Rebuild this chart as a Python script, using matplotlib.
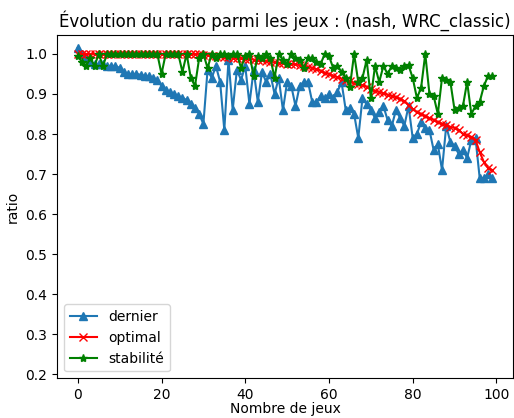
import numpy as np
import matplotlib
matplotlib.use('Agg')
import matplotlib.pyplot as plt

# valeurs
dernier = [1.015, 1.00, 0.99, 0.98, 0.975, 0.975, 0.975, 0.97, 0.97, 0.97,
           0.965, 0.955, 0.95, 0.95, 0.95, 0.948, 0.945, 0.945, 0.94, 0.935,
           0.92, 0.91, 0.905, 0.90, 0.895, 0.89, 0.885, 0.875, 0.865, 0.85,
           0.825, 0.96, 0.94, 0.97, 0.93, 0.81, 0.985, 0.86, 0.96, 0.935,
           0.97, 0.875, 0.96, 0.88, 0.955, 0.93, 0.95, 0.90, 0.94, 0.86,
           0.93, 0.92, 0.87, 0.92, 0.93, 0.93, 0.88, 0.88, 0.895, 0.89,
           0.90, 0.89, 0.905, 0.93, 0.86, 0.865, 0.85, 0.79, 0.89, 0.875,
           0.86, 0.84, 0.855, 0.87, 0.835, 0.82, 0.86, 0.84, 0.82, 0.87,
           0.79, 0.80, 0.83, 0.815, 0.81, 0.76, 0.775, 0.71, 0.82, 0.78,
           0.77, 0.75, 0.76, 0.74, 0.785, 0.79, 0.69, 0.69, 0.70, 0.69]

optimal = [1.0] * 30 + [
           0.998, 0.997, 0.995, 0.995, 0.994, 0.993, 0.992, 0.99, 0.99, 0.989,
           0.988, 0.987, 0.986, 0.985, 0.984, 0.982, 0.98, 0.979, 0.978, 0.977,
           0.976, 0.975, 0.974, 0.972, 0.97, 0.968, 0.965, 0.962, 0.958, 0.953,
           0.95, 0.946, 0.942, 0.938, 0.935, 0.932, 0.928, 0.925, 0.922, 0.918,
           0.913, 0.908, 0.905, 0.902, 0.898, 0.895, 0.892, 0.888, 0.882, 0.872,
           0.862, 0.855, 0.85, 0.845, 0.84, 0.835, 0.83, 0.826, 0.822, 0.818,
           0.815, 0.81, 0.80, 0.797, 0.793, 0.785, 0.755, 0.73, 0.715, 0.71]

stabilite = [0.995, 0.98, 0.97, 0.99, 0.97, 1.0, 0.97, 1.0, 1.0, 1.0,
             1.0, 1.0, 1.0, 1.0, 1.0, 1.0, 1.0, 1.0, 1.0, 1.0,
             0.95, 1.0, 1.0, 1.0, 1.0, 0.955, 1.0, 0.94, 0.92, 0.99,
             1.0, 0.965, 1.0, 0.99, 1.0, 1.0, 0.995, 1.0, 1.0, 0.965,
             0.995, 1.0, 0.945, 0.995, 0.99, 1.0, 0.99, 0.94, 1.0, 0.985,
             0.975, 1.0, 0.99, 0.985, 0.965, 0.99, 0.99, 0.98, 0.975, 1.0,
             0.995, 0.965, 0.97, 0.955, 0.94, 0.918, 1.0, 0.93, 0.94, 0.985,
             0.89, 0.97, 0.93, 0.97, 0.95, 0.97, 0.965, 0.96, 0.97, 0.972,
             0.94, 0.89, 0.915, 1.0, 0.90, 0.895, 0.85, 0.94, 0.935, 0.93,
             0.86, 0.865, 0.87, 0.93, 0.85, 0.87, 0.88, 0.92, 0.945, 0.945]

jeux = np.arange(len(dernier))

fig = plt.figure(figsize=(5.14, 4.18), dpi=100)
ax = fig.add_axes([0.111, 0.095, 0.887, 0.821])
ax.plot(jeux, dernier, marker='^', label='dernier')
ax.plot(jeux, optimal, marker='x', color='red', label='optimal')
ax.plot(jeux, stabilite, marker='*', color='green', label='stabilité')
ax.set_ylim(0.19, 1.047)
ax.set_xlabel('Nombre de jeux', labelpad=0)
ax.set_ylabel('ratio')
ax.set_title('Évolution du ratio parmi les jeux : (nash, WRC_classic)')
ax.legend(loc='lower left')
fig.savefig('out.png', dpi=100)
